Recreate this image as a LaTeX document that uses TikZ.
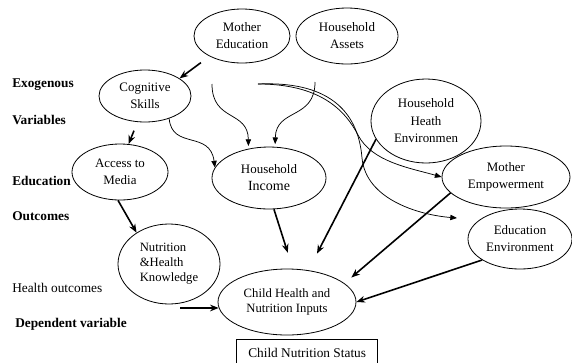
\documentclass[tikz,border=0pt]{standalone}
\usepackage{fontspec}
\setmainfont{Liberation Serif}
\usetikzlibrary{shapes.geometric,arrows.meta}
\begin{document}
\begin{tikzpicture}[x=0.75pt,y=-0.75pt,
  ell/.style={draw,ellipse,inner sep=0pt,line width=0.6pt,align=center,font=\fontsize{9.7pt}{12.75pt}\selectfont},
  bigarrow/.style={line width=1.2pt,-{Stealth[length=6.5pt,width=5pt]}},
  thinarrow/.style={line width=0.55pt,-{Triangle[length=5pt,width=4pt]}},
  lab/.style={anchor=west,inner sep=0pt,font=\fontsize{10pt}{12pt}\selectfont\bfseries},
  labn/.style={anchor=west,inner sep=0pt,font=\fontsize{10pt}{12pt}\selectfont}]
\useasboundingbox (0,0) rectangle (572,362);

% ellipses
\node[ell,minimum width=72pt,minimum height=40.5pt] (medu) at (242,36) {Mother\\Education};
\node[ell,minimum width=76.5pt,minimum height=42pt] (hass) at (347,36) {Household\\Assets};
\node[ell,minimum width=69pt,minimum height=39pt] (cog) at (145,96) {Cognitive\\Skills};
\node[ell,minimum width=72pt,minimum height=42pt] (acc) at (120,172) {Access to\\Media};
\node[ell,minimum width=85.5pt,minimum height=46.5pt] (inc) at (269,178) {Household\\{\fontsize{10.5pt}{13pt}\selectfont Income}};
\node[ell,minimum width=82.5pt,minimum height=63pt,font=\fontsize{9.7pt}{13.1pt}\selectfont] (hhe) at (426,121) {Household\\Heath\\Environmen};
\node[ell,minimum width=96pt,minimum height=46.5pt] (memp) at (506,177) {Mother\\Empowerment};
\node[ell,minimum width=78pt,minimum height=45pt] (eden) at (520,239) {Education\\Environment};
\node[ell,minimum width=76.5pt,minimum height=60pt,align=left,font=\fontsize{9.5pt}{11.25pt}\selectfont] (nutk) at (169,264) {Nutrition\\\&Health\\Knowledge};
\node[ell,minimum width=103.5pt,minimum height=49.5pt,font=\fontsize{9.5pt}{11.25pt}\selectfont] (chi) at (287,302) {Child Health and\\Nutrition Inputs};

% box (its lower edge lies below the picture, as in the reference)
\node[draw,line width=1pt,anchor=north west,minimum width=105.75pt,minimum height=22pt,inner sep=0pt,font=\fontsize{10pt}{12pt}\selectfont] (cns) at (236,339) {\raisebox{2pt}{Child Nutrition Status}};

% side labels
\node[lab] (l1) at (12,85) {Exogenous};
\node[lab] (l2) at (12,120) {Variables};
\node[lab] (l3) at (12,181) {Education};
\node[lab] (l4) at (12,216) {Outcomes};
\node[labn] (l5) at (12,288) {Health outcomes};
\node[lab] (l6) at (15,324) {Dependent variable};

% free starts
\coordinate (c1s) at (212,84);
\coordinate (c2s) at (315,82);
\coordinate (c4s) at (258,84);
\coordinate (hst) at (180,308);

% thick arrows
\draw[bigarrow,shorten <=8pt] (medu.212) -- (cog.27);
\draw[bigarrow,shorten <=7pt] (cog.254) -- (acc.73);
\draw[bigarrow] (acc.266) -- (nutk.136);
\draw[bigarrow] (hst) -- (chi.185);
\draw[bigarrow,shorten >=12.6pt] (inc.279) -- (chi.80);
\draw[bigarrow,shorten >=14pt] (hhe.200) -- (chi.56);
\draw[bigarrow,shorten >=6.7pt] (memp.196) -- (chi.18);
\draw[bigarrow] (eden.209) -- (chi.east);

% thin curved arrows
\draw[thinarrow,shorten >=2pt] (c1s) .. controls (212,122) and (248,110) .. (inc.125);
\draw[thinarrow,shorten >=2pt] (c2s) .. controls (315,120) and (276,108) .. (inc.79);
\draw[thinarrow] (cog.317) .. controls (172,150) and (210,130) .. (inc.169);
\draw[thinarrow] (c4s) .. controls (320,84) and (345,110) .. (358,135) .. controls (372,162) and (410,168) .. (memp.west);
\draw[thinarrow] (c4s) .. controls (325,81) and (358,108) .. (362,158) .. controls (366,200) and (420,215) .. (457,218);
\end{tikzpicture}
\end{document}
